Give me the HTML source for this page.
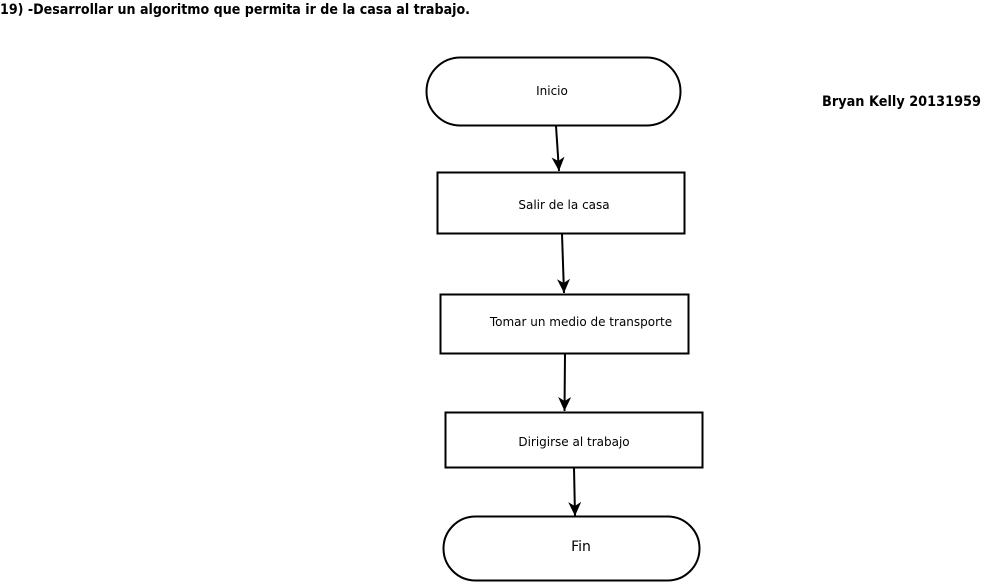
<!DOCTYPE html>
<html><head><meta charset="utf-8"><style>
body{margin:0;background:#fff;width:983px;height:583px;overflow:hidden}
svg text{font-family:"DejaVu Sans","Liberation Sans",sans-serif;fill:#000}
</style></head><body>
<svg width="983" height="583" viewBox="0 0 983 583" xmlns="http://www.w3.org/2000/svg">
<defs><marker id="a" markerWidth="15" markerHeight="13" refX="14" refY="6.5" orient="auto" markerUnits="userSpaceOnUse" viewBox="0 0 15 13"><path d="M0,0 L14,6.5 L0,13 L4,6.5 Z" fill="#000"/></marker></defs>
<text x="0" y="14" font-size="14" font-weight="bold" textLength="470" lengthAdjust="spacingAndGlyphs">19) -Desarrollar un algoritmo que permita ir de la casa al trabajo.</text>
<text x="822" y="106" font-size="14" font-weight="bold" textLength="159" lengthAdjust="spacingAndGlyphs">Bryan Kelly 20131959</text>
<g fill="none" stroke="#000" stroke-width="2">
<rect x="426.5" y="57.5" width="254" height="68" rx="34"/>
<rect x="437.5" y="172.5" width="247" height="61"/>
<rect x="440.5" y="294.5" width="248" height="59"/>
<rect x="445.5" y="412.5" width="257" height="55"/>
<rect x="443.5" y="516.5" width="256" height="64" rx="32"/>
<line x1="556" y1="126" x2="559" y2="171" marker-end="url(#a)"/>
<line x1="562" y1="234" x2="564" y2="293" marker-end="url(#a)"/>
<line x1="565" y1="354" x2="564.5" y2="411" marker-end="url(#a)"/>
<line x1="574" y1="468" x2="575" y2="516" marker-end="url(#a)"/>
</g>
<text x="552" y="95" font-size="12" text-anchor="middle">Inicio</text>
<text x="564" y="209" font-size="12" text-anchor="middle">Salir de la casa</text>
<text x="581" y="326" font-size="12" text-anchor="middle">Tomar un medio de transporte</text>
<text x="574" y="446" font-size="12" text-anchor="middle">Dirigirse al trabajo</text>
<text x="581" y="551" font-size="14" text-anchor="middle">Fin</text>
</svg>
</body></html>
